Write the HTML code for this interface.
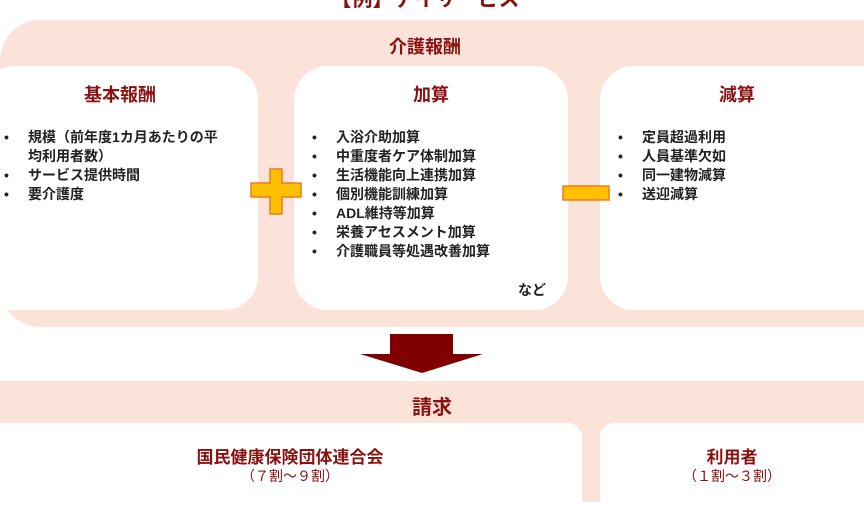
<!DOCTYPE html>
<html><head><meta charset="utf-8"><style>
body{margin:0;width:864px;height:502px;overflow:hidden;background:#fff;position:relative;font-family:"Liberation Sans","Noto Sans CJK JP",sans-serif}
.a{position:absolute}
.pink{background:#fbe3d9}
.w{background:#fff;border-radius:34px}
.h{color:#8b1010;font-weight:bold;font-size:18px;text-align:center}
ul{margin:0;padding:0;list-style:none;font-size:14px;font-weight:bold;color:#222;line-height:19px}
li{position:relative;padding-left:28px}
li:before{content:"•";position:absolute;left:4px}
</style></head><body>
<div class="a h" style="left:300px;top:-17px;width:250px;font-size:21px">【例】デイサービス</div>
<div class="a pink" style="left:0;top:20px;width:900px;height:307px;border-radius:40px"></div>
<div class="a h" style="left:325px;top:33px;width:200px">介護報酬</div>
<div class="a w" style="left:-20px;top:66px;width:278px;height:244px"></div>
<div class="a h" style="left:0;top:81px;width:240px">基本報酬</div>
<ul class="a" style="left:0;top:128px;width:228px"><li>規模（前年度1カ月あたりの平均利用者数）</li><li>サービス提供時間</li><li>要介護度</li></ul>
<div class="a w" style="left:294px;top:66px;width:274px;height:244px"></div>
<div class="a h" style="left:294px;top:81px;width:274px">加算</div>
<ul class="a" style="left:308px;top:128px;width:260px"><li>入浴介助加算</li><li>中重度者ケア体制加算</li><li>生活機能向上連携加算</li><li>個別機能訓練加算</li><li>ADL維持等加算</li><li>栄養アセスメント加算</li><li>介護職員等処遇改善加算</li></ul>
<div class="a" style="left:518px;top:280px;font-size:14px;font-weight:bold;color:#222">など</div>
<div class="a w" style="left:600px;top:66px;width:300px;height:244px"></div>
<div class="a h" style="left:600px;top:81px;width:274px">減算</div>
<ul class="a" style="left:614px;top:128px;width:250px"><li>定員超過利用</li><li>人員基準欠如</li><li>同一建物減算</li><li>送迎減算</li></ul>
<svg class="a" style="left:0;top:0" width="864" height="502">
<path d="M251 183h19v-14h12v14h19v14h-19v17h-12v-17h-19z" fill="#ffc000" stroke="#f07a20" stroke-width="1.5"/>
<rect x="563" y="186" width="46" height="14" fill="#ffc000" stroke="#f07a20" stroke-width="1.5"/>
<path d="M390 334h63v20h30l-61 19l-62-19h30z" fill="#800000"/>
</svg>
<div class="a pink" style="left:0;top:381px;width:864px;height:121px"></div>
<div class="a h" style="left:332px;top:391px;width:200px;font-size:20px">請求</div>
<div class="a" style="left:-20px;top:423px;width:602px;height:100px;background:#fff;border-radius:14px"></div>
<div class="a" style="left:600px;top:423px;width:300px;height:100px;background:#fff;border-radius:14px"></div>
<div class="a h" style="left:0;top:443px;width:580px;font-size:17px">国民健康保険団体連合会</div>
<div class="a" style="left:0;top:466px;width:580px;text-align:center;color:#8b1010;font-size:14px">（７割～９割）</div>
<div class="a h" style="left:600px;top:443px;width:264px;font-size:17px">利用者</div>
<div class="a" style="left:600px;top:466px;width:264px;text-align:center;color:#8b1010;font-size:14px">（１割～３割）</div>
</body></html>
